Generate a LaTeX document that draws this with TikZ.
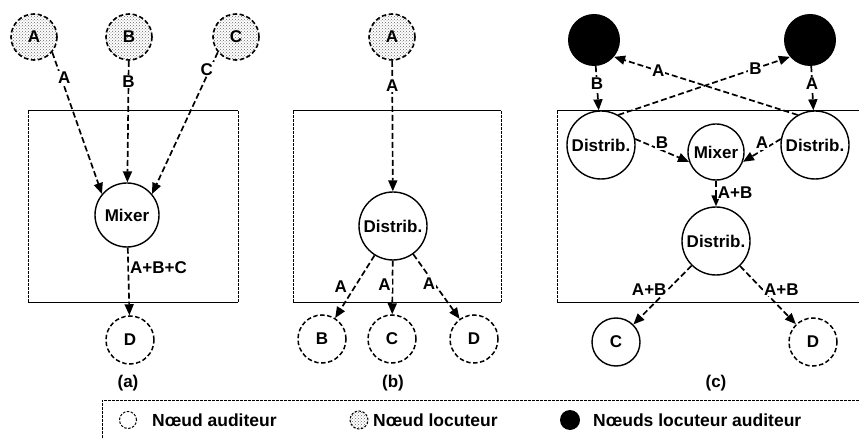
\documentclass[tikz,border=0pt]{standalone}
\usepackage{fontspec}
\setmainfont{Liberation Sans}
\usepackage{tikz}
\usetikzlibrary{arrows.meta, patterns}

\begin{document}
\begin{tikzpicture}[x=1pt, y=-1pt, every node/.style={font=\fontsize{17}{19}\selectfont\bfseries},
  spk/.style={draw, circle, dash pattern=on 4.5pt off 2.5pt, line width=1.6pt, minimum size=46pt, inner sep=0pt, pattern=crosshatch dots, pattern color=black!60},
  lis/.style={draw, circle, dash pattern=on 4.5pt off 2.5pt, line width=1.5pt, minimum size=48pt, inner sep=0pt},
  spl/.style={circle, fill=black, minimum size=52pt, inner sep=0pt},
  proc/.style={draw, circle, line width=1.4pt, minimum size=68pt, inner sep=0pt},
  lbl/.style={fill=white, inner sep=1pt},
  legtxt/.style={anchor=west, inner sep=0pt, font=\fontsize{17.5}{20}\selectfont\bfseries},
  flow/.style={-{Triangle[length=11pt, width=9pt]}, dash pattern=on 6pt off 3pt, line width=1.7pt},
  side/.style={dash pattern=on 3pt off 1pt, line width=0.8pt},
  edge/.style={line width=1pt}]
  \useasboundingbox (0,0) rectangle (859,438);
  \foreach \xa/\xb in {28/238, 293/501, 557/875} {
    \draw [edge] (\xa,111) -- (\xb,111);
    \draw [edge] (\xa,302) -- (\xb,302);
    \draw [side] (\xa,111) -- (\xa,302);
    \draw [side] (\xb,111) -- (\xb,302);
  }
  \draw [side] (102,450) -- (102,400) -- (875,400);

  % (a)
  \node (spkA) [spk] at (34,37) {A};
  \node (spkB) [spk] at (129,37) {B};
  \node (spkC) [spk] at (236,37) {C};
  \node (mixA) [proc, minimum size=64pt] at (127,215) {Mixer};
  \node (lisD) [lis] at (130,340) {D};
  \node (capA) at (128,383) {(a)};
  \draw [flow] (spkA.-40) -- node[lbl, pos=0.18, xshift=3pt] (eA) {A} (mixA.140);
  \draw [flow] (spkB) -- node[lbl, pos=0.17] (eB) {B} (mixA);
  \draw [flow] (spkC.-140) -- node[lbl, pos=0.12, xshift=-3pt] (eC) {C} (mixA.40);
  \draw [flow] (mixA) -- node[lbl, right, pos=0.3] (eABC) {A+B+C} (lisD);

  % (b)
  \node (spkA2) [spk] at (392,37) {A};
  \node (disB) [proc] at (393,226) {Distrib.};
  \node (lisB) [lis] at (322,339) {B};
  \node (lisC) [lis] at (392,339) {C};
  \node (lisD2) [lis] at (474,339) {D};
  \node (capB) at (393,383) {(b)};
  \draw [flow] (spkA2) -- node[lbl, pos=0.19] (eA4) {A} (disB);
  \draw [flow] (disB) -- node[lbl, left=6pt, pos=0.5] (eA5) {A} (lisB);
  \draw [flow] (disB) -- node[lbl, left, pos=0.45] (eA6) {A} (lisC);
  \draw [flow] (disB) -- node[lbl, pos=0.45, xshift=-5pt] (eA7) {A} (lisD2);

  % (c)
  \node (spl1) [spl] at (594,40) {};
  \node (spl2) [spl] at (810,40) {};
  \node (disL) [proc] at (601,145) {Distrib.};
  \node (disR) [proc] at (815,145) {Distrib.};
  \node (mixC) [proc, minimum size=56pt] at (716,152) {Mixer};
  \node (disM) [proc] at (716,241) {Distrib.};
  \node (lisC3) [proc, minimum size=48pt] at (616,342) {C};
  \node (lisD3) [lis] at (813,342) {D};
  \node (capC) at (716,383) {(c)};
  \draw [flow] (spl1) -- node[lbl, pos=0.4] (eB1) {B} (disL);
  \draw [flow] (spl2) -- node[lbl, pos=0.4] (eA1) {A} (disR);
  \draw [flow] (disL.60) -- node[lbl, pos=0.8] (eB2) {B} (spl2.220);
  \draw [flow] (disR.120) -- node[lbl, pos=0.76] (eA2) {A} (spl1.-40);
  \draw [flow] (disL.10) -- node[lbl, above, pos=0.5] (eB3) {B} (mixC.200);
  \draw [flow] (disR.170) -- node[lbl, above, pos=0.5] (eA3) {A} (mixC.-20);
  \draw [flow] (mixC) -- node[lbl, right, pos=0.45] (eAB1) {A+B} (disM);
  \draw [flow] (disM) -- node[lbl, left, pos=0.4] (eAB2) {A+B} (lisC3);
  \draw [flow] (disM) -- node[lbl, right, pos=0.4] (eAB3) {A+B} (lisD3);

  % legend
  \node (key1) [lis, minimum size=17pt, line width=1pt, dash pattern=on 2.5pt off 1.5pt] at (128,420) {};
  \node (txt1) [legtxt] at (152,420) {Nœud auditeur};
  \node (key2) [spk, minimum size=18pt, line width=1pt, dash pattern=on 2.5pt off 1.5pt] at (359,420) {};
  \node (txt2) [legtxt] at (373,420) {Nœud locuteur};
  \node (key3) [spl, minimum size=20pt] at (570,420) {};
  \node (txt3) [legtxt] at (593,420) {Nœuds locuteur auditeur};
\end{tikzpicture}
\end{document}
